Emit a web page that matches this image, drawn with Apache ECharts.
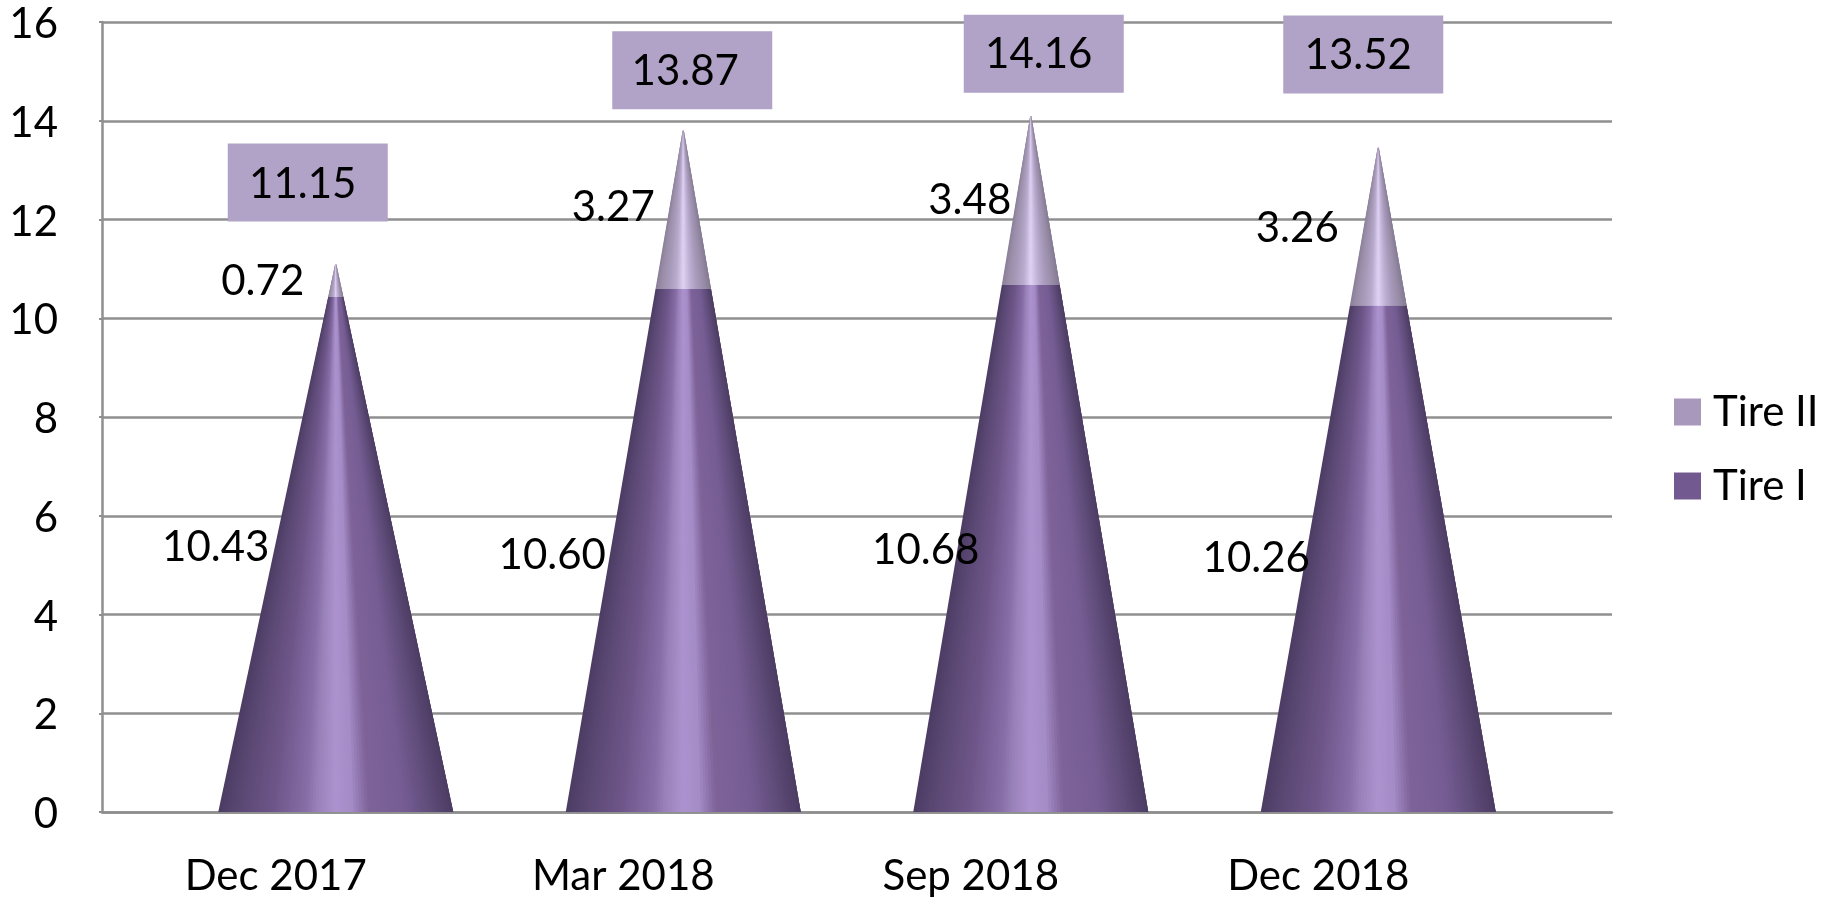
<!DOCTYPE html>
<html><head><meta charset="utf-8">
<style>html,body{margin:0;padding:0;background:#fff}#c{width:1821px;height:897px}</style>
<script src="https://cdn.jsdelivr.net/npm/echarts@6/dist/echarts.min.js"></script>
</head><body><div id="c"></div>
<script>
const categories = ['Dec 2017', 'Mar 2018', 'Sep 2018', 'Dec 2018'];
const tire1 = [10.43, 10.60, 10.68, 10.26];
const tire2 = [0.72, 3.27, 3.48, 3.26];
const totals = [11.15, 13.87, 14.16, 13.52];

// label placement (pixel offsets from the top of each segment)
const tire1LabelOffset = [[-120, 250], [-131, 267], [-105, 266], [-122, 253]];
const tire2LabelOffset = [[-73, 20], [-70, 80], [-61, 88], [-81, 84]];
const totalBoxOffset = [[-28, -79], [9, -57], [13, -59], [-15, -90]];
const totalTextOffset = [[-5, 2], [-7, 1], [-5, 1], [-5, 1]];

const FONT = 'Lato, "Open Sans", sans-serif';
const FS = 42;
const SHIFT = 60, HALF = 117.5, TIP_TRIM = 0.06;

// horizontal shading across the cone, t from -1 to 1
const shadeDark = [[-1,'#4c3c63'],[-0.83,'#5a4873'],[-0.54,'#6d5588'],[-0.26,'#866da6'],[-0.15,'#9a82ba'],[0,'#ac93cf'],[0.136,'#a48cc6'],[0.28,'#7e6399'],[0.59,'#755d93'],[0.82,'#5e4b78'],[1,'#4c3c63']];
const shadeLight = [[-1,'#8a7f98'],[-0.8,'#9a8ea9'],[-0.5,'#a99cbb'],[-0.25,'#baacce'],[0,'#dfd2f4'],[0.25,'#bfb1d4'],[0.5,'#a99bbc'],[0.8,'#958aa4'],[1,'#857a94']];

function hex(c){return [1,3,5].map(i=>parseInt(c.substr(i,2),16));}
function sample(stops,t){
  for(let i=1;i<stops.length;i++){
    if(t<=stops[i][0]){
      const a=stops[i-1],b=stops[i],f=(t-a[0])/(b[0]-a[0]);
      const ca=hex(a[1]),cb=hex(b[1]);
      return 'rgb('+ca.map((v,k)=>Math.round(v+(cb[k]-v)*f)).join(',')+')';
    }
  }
  return stops[stops.length-1][1];
}
const N = 80;
function conePiece(api, stops, from, to, total){
  const i = api.value(0);
  const base = api.coord([i, 0]);
  const cx = base[0] + SHIFT;
  const y0 = base[1];
  const yApex = api.coord([i, total])[1];
  const yA = api.coord([i, from])[1];
  const yB = api.coord([i, to])[1];
  const ha = HALF * (yA - yApex) / (y0 - yApex);
  const hb = HALF * (yB - yApex) / (y0 - yApex);
  const kids = [];
  for (let k = 0; k < N; k++) {
    const t0 = -1 + 2*k/N, t1 = -1 + 2*(k+1)/N, col = sample(stops,(t0+t1)/2);
    const t2 = Math.min(1, t1 + 4/N); // overlap the next wedge so no seams show
    kids.push({type:'polygon', shape:{points:[[cx+t0*ha,yA],[cx+t2*ha,yA],[cx+t2*hb,yB],[cx+t0*hb,yB]]},
      style:{fill:col}});
  }
  return kids;
}
function txt(x,y,s){
  return {type:'text', z2:100, style:{x:x,y:y,text:s,fill:'#000',font:FS+'px '+FONT,textAlign:'center',textVerticalAlign:'middle'}};
}
const fmt = v => v.toFixed(2);

const option = {
  animation:false,
  backgroundColor:'#fff',
  textStyle:{fontFamily:FONT},
  legend:{
    data:['Tire II','Tire I'], orient:'vertical', left:1669, top:386, itemWidth:27, itemHeight:27, itemGap:32,
    selectedMode:false, icon:'rect',
    textStyle:{fontSize:FS, fontFamily:FONT, color:'#000', padding:[0,0,0,7]}
  },
  grid:[
    {left:102,right:209,top:22,height:790},
    {left:102,width:1390,top:22,height:790}
  ],
  xAxis:[
    {gridIndex:0,type:'value',min:0,max:1,axisLabel:{show:false},axisTick:{show:false},splitLine:{show:false},axisLine:{show:true,lineStyle:{color:'#8f8f8f',width:2.5}}},
    {gridIndex:1,type:'category',data:categories,axisTick:{show:false},axisLine:{show:false},splitLine:{show:false},
     axisLabel:{fontSize:FS,fontFamily:FONT,color:'#000',margin:43}}
  ],
  yAxis:[
    {gridIndex:0,type:'value',min:0,max:16,interval:2,axisTick:{show:true,length:3,lineStyle:{color:'#8f8f8f',width:2}},
     axisLine:{show:true,lineStyle:{color:'#8f8f8f',width:2.5}},
     splitLine:{show:true,lineStyle:{color:'#8f8f8f',width:2.5}},
     axisLabel:{margin:44,align:'right',formatter:'{a|{value}}',
       rich:{a:{fontSize:FS,fontFamily:FONT,color:'#000',padding:[5,0,0,0]}}}},
    {gridIndex:1,type:'value',min:0,max:16,interval:2,show:false,splitLine:{show:false}}
  ],
  series:[
    {name:'Tire I',type:'custom',xAxisIndex:1,yAxisIndex:1,z:5,itemStyle:{color:'#725a91'},
     data:categories.map((c,i)=>[i,tire1[i]]),encode:{x:0,y:1},
     renderItem(p,api){
       const i=api.value(0),v=api.value(1),pos=api.coord([i,v]);
       const off=tire1LabelOffset[i];
       return {type:'group',children:[...conePiece(api,shadeDark,0,v,totals[i]),txt(pos[0]+SHIFT+off[0],pos[1]+off[1],fmt(v))]};
     }},
    {name:'Tire II',type:'custom',xAxisIndex:1,yAxisIndex:1,z:6,itemStyle:{color:'#a899bc'},
     data:categories.map((c,i)=>[i,tire2[i]]),encode:{x:0,y:1},
     renderItem(p,api){
       const i=api.value(0),v=api.value(1),pos=api.coord([i,totals[i]]);
       const off=tire2LabelOffset[i];
       return {type:'group',children:[...conePiece(api,shadeLight,tire1[i],totals[i]-TIP_TRIM,totals[i]),txt(pos[0]+SHIFT+off[0],pos[1]+off[1],fmt(v))]};
     }},
    {name:'Total',type:'custom',xAxisIndex:1,yAxisIndex:1,z:7,
     data:categories.map((c,i)=>[i,totals[i]]),encode:{x:0,y:1},
     renderItem(p,api){
       const i=api.value(0),v=api.value(1),pos=api.coord([i,v]);
       const off=totalBoxOffset[i],bx=pos[0]+SHIFT+off[0],by=pos[1]+off[1];
       const t=totalTextOffset[i];
       return {type:'group',children:[
         {type:'rect',shape:{x:bx-80,y:by-39,width:160,height:78},style:{fill:'#b1a2c7'}},
         txt(bx+t[0],by+t[1],fmt(v))
       ]};
     }}
  ]
};
echarts.init(document.getElementById('c'),null,{renderer:'canvas'}).setOption(option);
</script></body></html>
